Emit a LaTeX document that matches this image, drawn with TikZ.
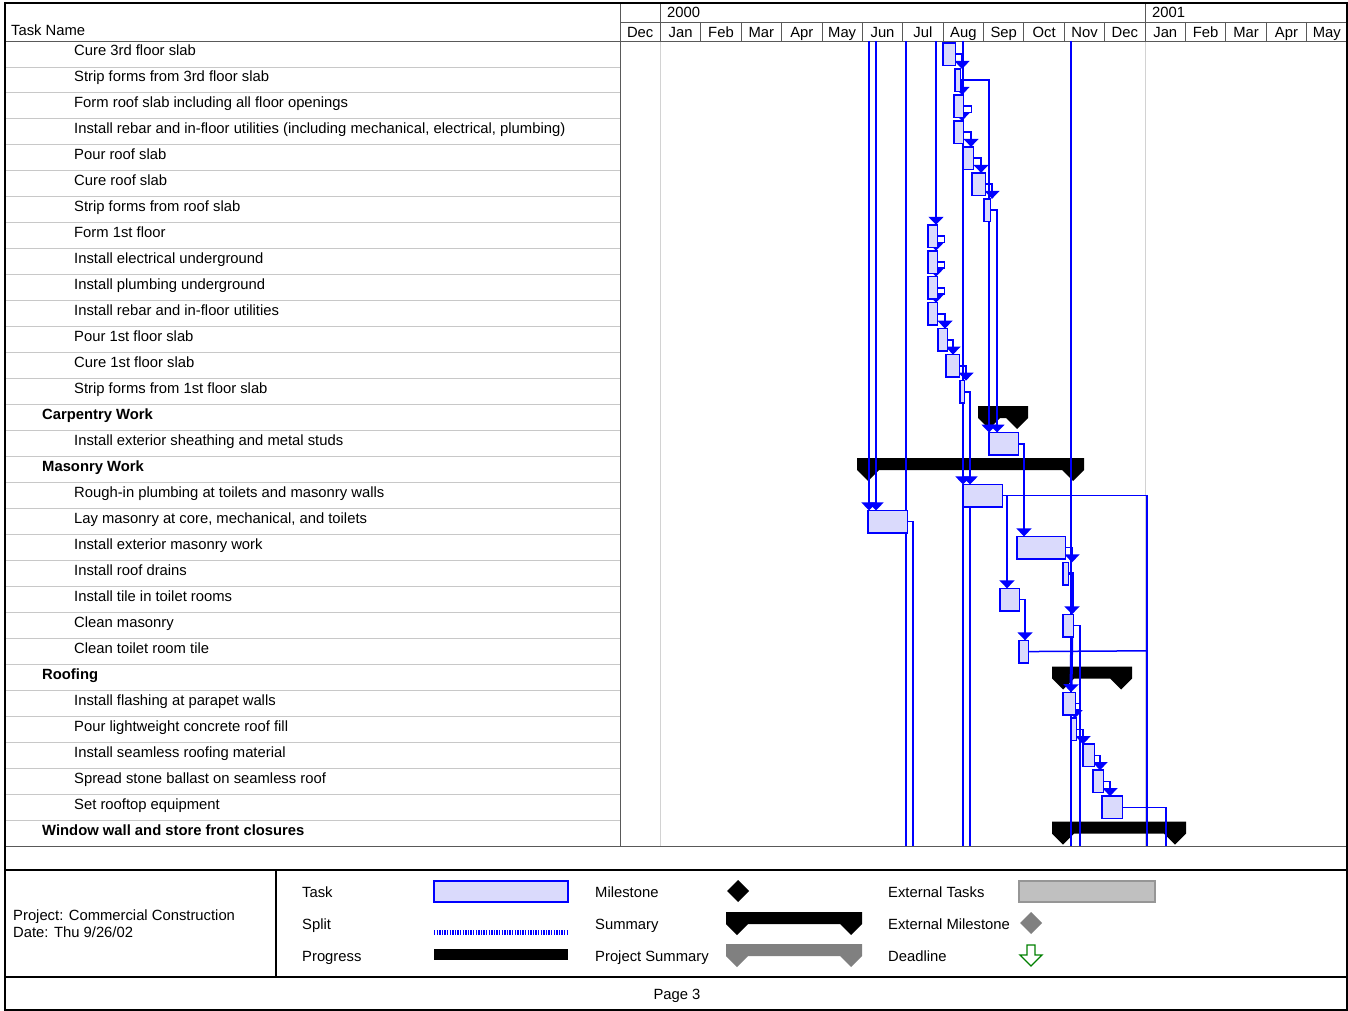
\documentclass[tikz,border=0pt]{standalone}
\usepackage{fontspec}
\setmainfont{Liberation Sans}
\usetikzlibrary{arrows.meta,calc}
\definecolor{barfill}{RGB}{218,218,252}
\definecolor{lnk}{RGB}{0,0,255}
\definecolor{rowgray}{RGB}{200,200,200}
\definecolor{yeargray}{RGB}{210,210,210}
\definecolor{extgray}{RGB}{192,192,192}
\definecolor{extdraw}{RGB}{150,150,150}
\definecolor{projgray}{RGB}{128,128,128}
\definecolor{deadgreen}{RGB}{0,128,0}
\newcommand{\gsum}[4]{\fill[#4] (#1,#3) -- (#2,#3) -- (#2,{#3+12}) -- ({#2-11},{#3+23}) -- ({#2-22},{#3+12}) -- ({#1+22},{#3+12}) -- ({#1+11},{#3+23}) -- (#1,{#3+12}) -- cycle;}
\begin{document}
\begin{tikzpicture}[x=1pt,y=-1pt,
  txt/.style={font=\fontsize{14.8}{17}\selectfont, inner sep=0pt, anchor=base west},
  btxt/.style={txt, font=\fontsize{14.8}{17}\selectfont\bfseries},
  ctxt/.style={txt, anchor=base},
  taskbar/.style={draw=lnk, fill=barfill, line width=1.5pt, minimum height=21pt, inner sep=0pt, anchor=north west},
  link/.style={draw=lnk, line width=1.5pt},
  arr/.style={link, -{Triangle[width=15pt,length=8pt]}},
  frame/.style={black, line width=2pt},
  hline/.style={black!65, line width=0.9pt},
  rowline/.style={rowgray, line width=0.9pt}]
\useasboundingbox (0,0) rectangle (1348,1011);
\fill[white] (0,0) rectangle (1348,1011);

% ---------- table grid ----------
\foreach \k in {1,...,30} \draw[rowline] (5,{41+\k*25.97}) -- (620,{41+\k*25.97});
\draw[yeargray, line width=1pt] (660.4,41) -- (660.4,846);
\draw[yeargray, line width=1pt] (1145.1,41) -- (1145.1,846);
\draw[hline] (620,22) -- (1347,22);
\foreach \i in {1,...,17} \draw[hline] ({620+\i*40.39},22) -- ({620+\i*40.39},41);
\draw[hline] (660.4,3) -- (660.4,22);
\draw[hline] (1145.1,3) -- (1145.1,22);
\draw[hline] (620,3) -- (620,846);
\draw[hline] (5,41) -- (1347,41);
\draw[hline] (5,846) -- (1347,846);
\draw[frame] (5,3) -- (1347,3);
\draw[frame] (5,870) -- (1347,870);
\draw[frame] (5,977) -- (1347,977);
\draw[frame] (5,1010) -- (1347,1010);
\draw[frame] (5,2) -- (5,1011);
\draw[frame] (1347,2) -- (1347,1011);
\draw[black, line width=1.5pt] (276,870) -- (276,977);

% ---------- header text ----------
\node[txt] (hdr) at (11,36) {Task Name};
\node[txt] (y2000) at (667,18) {2000};
\node[txt] (y2001) at (1152,18) {2001};
\foreach \m [count=\i from 0] in {Dec,Jan,Feb,Mar,Apr,May,Jun,Jul,Aug,Sep,Oct,Nov,Dec,Jan,Feb,Mar,Apr,May}
  \node[ctxt] (mon\i) at ({620+(\i+0.5)*40.39},38) {\m};

% ---------- task names ----------
\foreach \i/\lv/\nm in {
 1/2/Cure 3rd floor slab,
 2/2/Strip forms from 3rd floor slab,
 3/2/Form roof slab including all floor openings,
 4/2/{Install rebar and in-floor utilities (including mechanical, electrical, plumbing)},
 5/2/Pour roof slab,
 6/2/Cure roof slab,
 7/2/Strip forms from roof slab,
 8/2/Form 1st floor,
 9/2/Install electrical underground,
 10/2/Install plumbing underground,
 11/2/Install rebar and in-floor utilities,
 12/2/Pour 1st floor slab,
 13/2/Cure 1st floor slab,
 14/2/Strip forms from 1st floor slab,
 15/1/Carpentry Work,
 16/2/Install exterior sheathing and metal studs,
 17/1/Masonry Work,
 18/2/Rough-in plumbing at toilets and masonry walls,
 19/2/{Lay masonry at core, mechanical, and toilets},
 20/2/Install exterior masonry work,
 21/2/Install roof drains,
 22/2/Install tile in toilet rooms,
 23/2/Clean masonry,
 24/2/Clean toilet room tile,
 25/1/Roofing,
 26/2/Install flashing at parapet walls,
 27/2/Pour lightweight concrete roof fill,
 28/2/Install seamless roofing material,
 29/2/Spread stone ballast on seamless roof,
 30/2/Set rooftop equipment,
 31/1/Window wall and store front closures}{
  \pgfmathsetmacro{\yy}{41+(\i-1)*25.97+15}
  \ifnum\lv=1
    \node[btxt] (name\i) at (42,\yy) {\nm};
  \else
    \node[txt] (name\i) at (74,\yy) {\nm};
  \fi
}

% ---------- summary bars ----------
\gsum{978}{1028}{406}{black}
\gsum{857}{1084}{458}{black}
\gsum{1052}{1132}{666.5}{black}
\gsum{1052}{1186}{821.6}{black}

% ---------- task bar nodes (placed, drawn later) ----------
\foreach \i/\xa/\xb in {1/943/954,2/955/959,3/954/962,4/954/962,5/963/972,6/972/984,7/984/989,
  8/928/936,9/928/936,10/928/936,11/928/936,12/938/946,13/946/958,14/960/963,
  16/989/1017,18/963/1001,19/868/906,20/1017/1064,21/1063/1067,22/1000/1018,23/1063/1072,
  24/1019/1027,26/1063/1074,27/1071/1075,28/1083/1093,29/1093/1102,30/1102/1121}{
  \pgfmathsetmacro{\yy}{41+(\i-1)*25.97+2}
  \pgfmathsetmacro{\ww}{\xb-\xa}
  \path (\xa,\yy) node[taskbar, draw=none, fill=none, minimum width=\ww pt] (t\i) {};
}

% ---------- coordinates ----------
\coordinate (top869) at (869,41);   \coordinate (top876) at (876,41);
\coordinate (top906) at (906,41);   \coordinate (bot906) at (906,846);
\coordinate (top936) at (936,41);   \coordinate (top963) at (963,41);
\coordinate (bot963) at (963,846);  \coordinate (top1071) at (1071,41);
\coordinate (bot1071) at (1071,846);
\coordinate (a2) at (962,68.97);    \coordinate (a3) at (962,94.94);
\coordinate (a4) at (962,120.91);   \coordinate (a5) at (971,146.88);
\coordinate (a6) at (981,172.85);   \coordinate (a7) at (992,198.82);
\coordinate (a8) at (936,224.79);   \coordinate (a9) at (936,250.76);
\coordinate (a10) at (936,276.73);  \coordinate (a11) at (936,302.70);
\coordinate (a12) at (945,328.67);  \coordinate (a13) at (953,354.64);
\coordinate (a14) at (966,380.61);
\coordinate (a16a) at (989,432.55); \coordinate (a16b) at (997,432.55);
\coordinate (a18a) at (963,484.49); \coordinate (a18b) at (970,484.49);
\coordinate (a19a) at (869,510.46); \coordinate (a19b) at (876,510.46);
\coordinate (a20) at (1024,536.43); \coordinate (a21) at (1072,562.40);
\coordinate (a22) at (1007,588.37); \coordinate (a23) at (1072,614.34);
\coordinate (a24) at (1025,640.31); \coordinate (a26) at (1071,692.25);
\coordinate (a27) at (1075,718.22); \coordinate (a28) at (1083,744.19);
\coordinate (a29) at (1100,770.16); \coordinate (a30) at (1110,796.13);
\coordinate (bot913) at (913,846);  \coordinate (bot970) at (970,846);
\coordinate (bot1080) at (1080,846);\coordinate (bot1147) at (1147,846);
\coordinate (bot1166) at (1166,846);\coordinate (c1147) at (1147,650.8);

% ---------- pass-through links ----------
\draw[arr] (top869) -- (a19a);
\draw[arr] (top876) -- (a19b);
\draw[link] (top906) -- (bot906);
\draw[arr] (top936) -- (a8);
\draw[arr] (top963) -- (a18a);
\draw[link] (a18a) -- (bot963);
\draw[link] (top1071) -- (bot1071);

% ---------- links ----------
\draw[arr] (t1.east) -| (a2);
\draw[arr] (t2.east) -| (a3);
\draw[arr] (t2.east) -| (a16a);
\draw[arr] (t3.east) -- ++(8,0) |- ($(a4)+(0,-8.5)$) -- (a4);
\draw[arr] (t4.east) -| (a5);
\draw[arr] (t5.east) -| (a6);
\draw[arr] (t6.east) -| (a7);
\draw[arr] (t7.east) -| (a16b);
\draw[arr] (t8.east) -- ++(7,0) |- ($(a9)+(0,-8.5)$) -- (a9);
\draw[arr] (t9.east) -- ++(7,0) |- ($(a10)+(0,-8.5)$) -- (a10);
\draw[arr] (t10.east) -- ++(7,0) |- ($(a11)+(0,-8.5)$) -- (a11);
\draw[arr] (t11.east) -| (a12);
\draw[arr] (t12.east) -| (a13);
\draw[arr] (t13.east) -| (a14);
\draw[arr] (t14.east) -| (a18b);
\draw[link] (a18b) -- (bot970);
\draw[arr] (t16.east) -| (a20);
\draw[link] (t18.east) -| (bot1147);
\draw[arr] (t18.east) -| (a22);
\draw[link] (t19.east) -| (bot913);
\draw[arr] (t20.east) -| (a21);
\draw[arr, line width=3pt] (t21.east) -| (a23);
\draw[arr, line width=3pt] (a23) -- (a26);
\draw[arr] (t22.east) -| (a24);
\draw[link] (t23.east) -| (bot1080);
\draw[link] (t24.east) -- (c1147);
\draw[arr] (t26.east) -- ++(4,0) |- ($(a27)+(0,-8.5)$) -- (a27);
\draw[arr] (t27.east) -| (a28);
\draw[arr] (t28.east) -| (a29);
\draw[arr] (t29.east) -| (a30);
\draw[link] (t30.east) -| (bot1166);

% ---------- task bars drawn on top ----------
\foreach \i in {1,2,3,4,5,6,7,8,9,10,11,12,13,14,16,18,19,20,21,22,23,24,26,27,28,29,30}
  \draw[draw=lnk, fill=barfill, line width=1.5pt] (t\i.north west) rectangle (t\i.south east);

% ---------- legend ----------
\node[txt] (projlbl) at (13,920) {Project: Commercial Construction};
\node[txt] (datelbl) at (13,937) {Date: Thu 9/26/02};
\node[txt] (lgtask) at (302,897) {Task};
\node[txt] (lgsplit) at (302,929) {Split};
\node[txt] (lgprog) at (302,961) {Progress};
\node[txt] (lgmile) at (595,897) {Milestone};
\node[txt] (lgsum) at (595,929) {Summary};
\node[txt] (lgproj) at (595,961) {Project Summary};
\node[txt] (lgext) at (888,897) {External Tasks};
\node[txt] (lgextm) at (888,929) {External Milestone};
\node[txt] (lgdead) at (888,961) {Deadline};
\node[txt, anchor=base] (page) at (677,999) {Page 3};

\draw[draw=lnk, fill=barfill, line width=1.5pt] (434,881) rectangle (568,902);
\draw[lnk, line width=5pt, dash pattern=on 1.3pt off 1.3pt] (434,932) -- (568,932);
\fill[black] (434,949) rectangle (568,960);
\fill[black] (738,880) -- (749,891) -- (738,902) -- (727,891) -- cycle;
\gsum{726}{862}{912}{black}
\gsum{726}{862}{944}{projgray}
\draw[draw=extdraw, fill=extgray, line width=1.5pt] (1019,881) rectangle (1155,902);
\fill[projgray] (1031,912) -- (1042,923) -- (1031,934) -- (1020,923) -- cycle;
\draw[deadgreen, fill=white, line width=1.3pt] (1027,945) -- (1035,945) -- (1035,955) -- (1042,955) -- (1031,966) -- (1020,955) -- (1027,955) -- cycle;
\end{tikzpicture}
\end{document}
